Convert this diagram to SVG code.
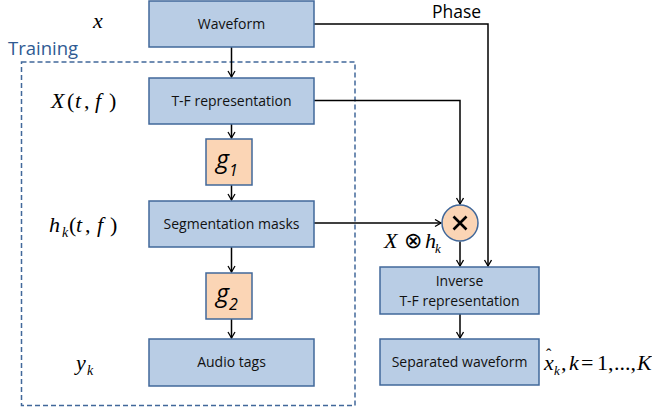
<svg xmlns="http://www.w3.org/2000/svg" width="652" height="410" viewBox="0 0 652 410">
<style>
.box{fill:#B9CDE5;stroke:#41689A;stroke-width:1.5}
.g{fill:#FBD5B5;stroke:#41689A;stroke-width:1.5}
.lbl{font-family:"Open Sans","Liberation Sans",sans-serif;font-size:14px;fill:#111;text-anchor:middle}
.gl{font-family:"Open Sans","Liberation Sans",sans-serif;font-style:italic;fill:#000}
.m{font-family:"Liberation Serif","Times New Roman",serif;font-style:italic;font-size:22px;fill:#000}
.mr{font-style:normal}
.c{fill:none;stroke:#000;stroke-width:1.5}
</style>
<defs>
<marker id="ah" markerWidth="10" markerHeight="10" refX="7" refY="4" orient="auto" markerUnits="userSpaceOnUse">
<path d="M1,0.5 L7,4 L1,7.5" fill="none" stroke="#000" stroke-width="1.3"/>
</marker>
</defs>
<rect id="training" x="21.5" y="62" width="333.5" height="343.5" fill="none" stroke="#41689A" stroke-width="1.5" stroke-dasharray="5,3"/>
<text x="8" y="55" font-family="Open Sans,Liberation Sans,sans-serif" font-size="18.5" fill="#2F5A93">Training</text>
<g id="connectors">
<line class="c" x1="231.5" y1="47" x2="231.5" y2="77" marker-end="url(#ah)"/>
<line class="c" x1="231.5" y1="124" x2="231.5" y2="138" marker-end="url(#ah)"/>
<line class="c" x1="231.5" y1="185" x2="231.5" y2="200" marker-end="url(#ah)"/>
<line class="c" x1="231.5" y1="247" x2="231.5" y2="272" marker-end="url(#ah)"/>
<line class="c" x1="231.5" y1="319" x2="231.5" y2="338" marker-end="url(#ah)"/>
<polyline class="c" points="314,24 488,24 488,266" marker-end="url(#ah)"/>
<polyline class="c" points="314,100.5 460,100.5 460,204" marker-end="url(#ah)"/>
<line class="c" x1="314" y1="223" x2="441" y2="223" marker-end="url(#ah)"/>
<line class="c" x1="460" y1="241.5" x2="460" y2="266" marker-end="url(#ah)"/>
<line class="c" x1="460" y1="314" x2="460" y2="338" marker-end="url(#ah)"/>
</g>
<g id="waveform"><rect class="box" x="149" y="1" width="165" height="46"/><text class="lbl" x="231.5" y="29">Waveform</text></g>
<g id="tf"><rect class="box" x="149" y="78" width="165" height="46"/><text class="lbl" x="231.5" y="106">T-F representation</text></g>
<g id="g1"><rect class="g" x="206" y="139" width="46" height="46"/><text class="gl" x="216" y="168" font-size="25">g<tspan font-size="16" dy="8">1</tspan></text></g>
<g id="seg"><rect class="box" x="149" y="201" width="165" height="46"/><text class="lbl" x="231.5" y="229">Segmentation masks</text></g>
<g id="g2"><rect class="g" x="206" y="273" width="46" height="46"/><text class="gl" x="216" y="302" font-size="25">g<tspan font-size="16" dy="8">2</tspan></text></g>
<g id="tags"><rect class="box" x="149" y="339" width="165" height="47"/><text class="lbl" x="231.5" y="367">Audio tags</text></g>
<g id="mult"><circle cx="460" cy="223" r="18" fill="#FBD5B5" stroke="#41689A" stroke-width="1.5"/><path d="M453.5,216.5 L466.5,229.5 M466.5,216.5 L453.5,229.5" stroke="#000" stroke-width="2.6"/></g>
<g id="inverse"><rect class="box" x="380" y="267" width="159" height="47"/><text class="lbl" x="459.5" y="285.5">Inverse</text><text class="lbl" x="459.5" y="305.5">T-F representation</text></g>
<g id="sep"><rect class="box" x="380" y="339" width="159" height="46"/><text class="lbl" x="459.5" y="367">Separated waveform</text></g>
<text x="432" y="18" font-family="Open Sans,Liberation Sans,sans-serif" font-size="17.5" fill="#000">Phase</text>
<text class="m" x="93" y="28">x</text>
<text class="m" y="108"><tspan x="51">X</tspan><tspan class="mr" x="67">(</tspan><tspan x="75">t</tspan><tspan class="mr" x="84">,</tspan><tspan x="95">f</tspan><tspan class="mr" x="109">)</tspan></text>
<text class="m" y="232"><tspan x="49">h</tspan><tspan font-size="14" x="62" dy="5">k</tspan><tspan class="mr" x="69" dy="-5">(</tspan><tspan x="76">t</tspan><tspan class="mr" x="85">,</tspan><tspan x="97">f</tspan><tspan class="mr" x="110">)</tspan></text>
<text class="m" y="370" font-size="24"><tspan x="76">y</tspan><tspan font-size="14" x="87" dy="5">k</tspan></text>
<text class="m" y="248" font-size="21"><tspan x="384">X</tspan><tspan class="mr" x="404">⊗</tspan><tspan x="425">h</tspan><tspan font-size="13" x="435" dy="5">k</tspan></text>
<text class="m" y="370" font-size="20"><tspan class="mr" font-size="16" x="546" y="360">ˆ</tspan><tspan x="544" y="370">x</tspan><tspan font-size="13" x="554" dy="5">k</tspan><tspan class="mr" x="561" dy="-5">,</tspan><tspan x="569">k</tspan><tspan class="mr" x="581">=</tspan><tspan class="mr" x="597">1,</tspan><tspan class="mr" x="614">...,</tspan><tspan x="637">K</tspan></text>
</svg>
